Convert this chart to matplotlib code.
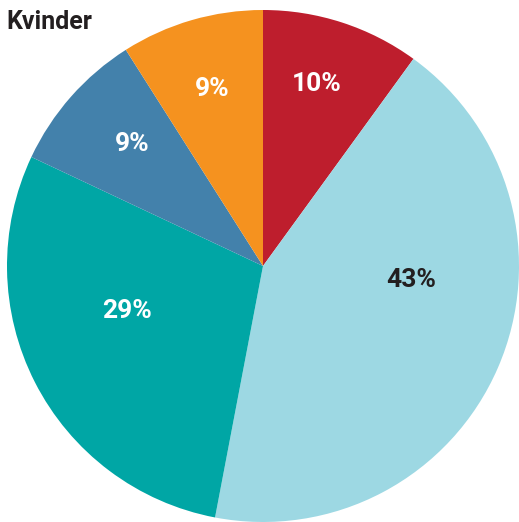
import matplotlib
matplotlib.use("Agg")
import matplotlib.pyplot as plt
import numpy as np

# Data
shares = [10, 43, 29, 9, 9]
labels = ["10%", "43%", "29%", "9%", "9%"]
colors = ["#BE1E2D", "#9DD8E3", "#00A6A5", "#4381AB", "#F5921F"]
text_colors = ["white", "#231F20", "white", "white", "white"]
# label placement (fraction of radius, angle in degrees)
label_dist = [0.74, 0.58, 0.56, 0.70, 0.72]
label_ang = [73.4, -5.4, 198.3, 137.0, 106.0]

fig = plt.figure(figsize=(5.19, 5.22), dpi=100)
ax = fig.add_axes([0, 0, 1, 1])

cx, cy, r = 263, 256, 256
wedges, _ = ax.pie(shares, colors=colors, startangle=90, counterclock=False,
                   center=(cx, cy), radius=r, frame=True,
                   wedgeprops=dict(linewidth=0))
ax.set_xlim(0, 519)
ax.set_ylim(0, 522)
ax.set_aspect("equal")
ax.axis("off")

for lab, tc, d, a in zip(labels, text_colors, label_dist, label_ang):
    ang = np.deg2rad(a)
    ax.text(cx + d * r * np.cos(ang), cy + d * r * np.sin(ang), lab,
            ha="center", va="center", color=tc, fontsize=19,
            fontweight="bold", family="Roboto")

fig.text(0.012, 0.957, "Kvinder", ha="left", va="center", fontsize=18,
         fontweight="bold", family="Roboto", color="#231F20")

fig.savefig("out.png", dpi=100)
